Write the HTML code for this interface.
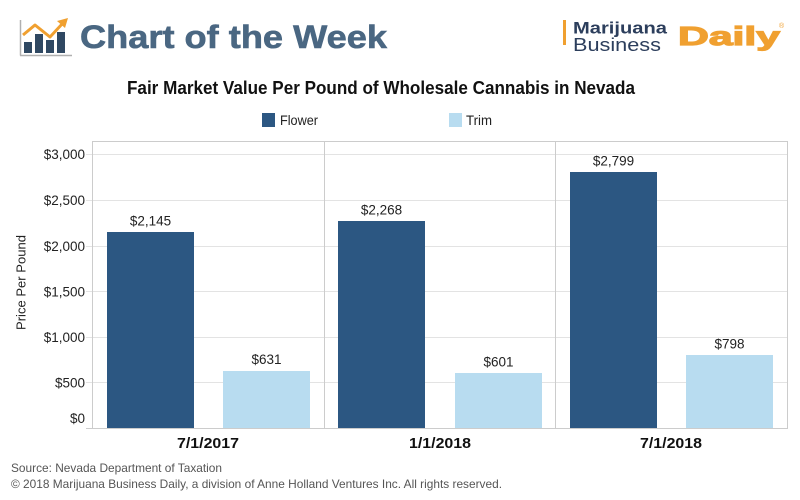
<!DOCTYPE html>
<html>
<head>
<meta charset="utf-8">
<style>
  html,body{margin:0;padding:0;background:#fff;}
  body{width:800px;height:500px;overflow:hidden;}
  svg{display:block;}
  text{font-family:"Liberation Sans", "DejaVu Sans", sans-serif;}
</style>
</head>
<body>
<svg width="800" height="500" viewBox="0 0 800 500" xmlns="http://www.w3.org/2000/svg">
  <rect x="0" y="0" width="800" height="500" fill="#ffffff"/>

  <!-- Header icon -->
  <g>
    <line x1="20.5" y1="20" x2="20.5" y2="55.5" stroke="#b0b0b0" stroke-width="1.5"/>
    <line x1="20" y1="55.5" x2="72" y2="55.5" stroke="#b0b0b0" stroke-width="1.5"/>
    <rect x="24" y="42" width="8" height="11" fill="#2f4862"/>
    <rect x="35" y="34" width="8" height="19" fill="#2f4862"/>
    <rect x="46" y="40" width="8" height="13" fill="#2f4862"/>
    <rect x="57" y="32" width="8" height="21" fill="#2f4862"/>
    <polyline points="23,35 35,25 50,37 63,23" fill="none" stroke="#f0a030" stroke-width="3" stroke-linejoin="round"/>
    <polygon points="68,18 57,21 65,28" fill="#f0a030"/>
  </g>
  <text x="80" y="48" font-size="32" font-weight="bold" fill="#4a6782" stroke="#4a6782" stroke-width="0.6" textLength="307" lengthAdjust="spacingAndGlyphs">Chart of the Week</text>

  <!-- Logo right -->
  <rect x="563" y="20" width="3" height="25" fill="#f0a030"/>
  <text x="573" y="33.5" font-size="16.5" font-weight="bold" fill="#2c3e5c" textLength="94" lengthAdjust="spacingAndGlyphs">Marijuana</text>
  <text x="573" y="51" font-size="18" fill="#2c3e5c" textLength="88" lengthAdjust="spacingAndGlyphs">Business</text>
  <text x="678" y="45" font-size="26" font-weight="bold" fill="#f0a030" stroke="#f0a030" stroke-width="1.2" textLength="102" lengthAdjust="spacingAndGlyphs">Daily</text>
  <text x="779" y="28" font-size="7" fill="#f0a030">®</text>

  <!-- Title -->
  <text x="127" y="94" font-size="18" font-weight="bold" fill="#111" textLength="508" lengthAdjust="spacingAndGlyphs">Fair Market Value Per Pound of Wholesale Cannabis in Nevada</text>

  <!-- Legend -->
  <rect x="262" y="113" width="13" height="14" fill="#2c5782"/>
  <text x="280" y="125" font-size="13.5" fill="#222" textLength="38" lengthAdjust="spacingAndGlyphs">Flower</text>
  <rect x="449" y="113" width="13" height="14" fill="#b8dcf0"/>
  <text x="466" y="125" font-size="13.5" fill="#222" textLength="26" lengthAdjust="spacingAndGlyphs">Trim</text>

  <!-- Gridlines -->
  <g stroke="#e3e3e3" stroke-width="1">
    <line x1="86" y1="154.5" x2="787" y2="154.5"/>
    <line x1="86" y1="200.5" x2="787" y2="200.5"/>
    <line x1="86" y1="246.5" x2="787" y2="246.5"/>
    <line x1="86" y1="291.5" x2="787" y2="291.5"/>
    <line x1="86" y1="337.5" x2="787" y2="337.5"/>
    <line x1="86" y1="382.5" x2="787" y2="382.5"/>
  </g>

  <!-- Panel borders -->
  <g stroke="#cccccc" stroke-width="1">
    <line x1="92" y1="141.5" x2="787.5" y2="141.5"/>
    <line x1="92.5" y1="141" x2="92.5" y2="428"/>
    <line x1="324.5" y1="141" x2="324.5" y2="428"/>
    <line x1="555.5" y1="141" x2="555.5" y2="428"/>
    <line x1="787.5" y1="141" x2="787.5" y2="428"/>
    <line x1="86" y1="428.5" x2="788" y2="428.5"/>
  </g>

  <!-- Bars -->
  <g>
    <rect x="107" y="232" width="87" height="196" fill="#2c5782"/>
    <rect x="223" y="371" width="87" height="57" fill="#b8dcf0"/>
    <rect x="338" y="221" width="87" height="207" fill="#2c5782"/>
    <rect x="455" y="373" width="87" height="55" fill="#b8dcf0"/>
    <rect x="570" y="172" width="87" height="256" fill="#2c5782"/>
    <rect x="686" y="355" width="87" height="73" fill="#b8dcf0"/>
  </g>

  <!-- Bar labels -->
  <g font-size="13.5" fill="#222" text-anchor="middle">
    <text x="150.5" y="225.5">$2,145</text>
    <text x="266.5" y="364">$631</text>
    <text x="381.5" y="214.5">$2,268</text>
    <text x="498.5" y="366.5">$601</text>
    <text x="613.5" y="165.5">$2,799</text>
    <text x="729.5" y="348.5">$798</text>
  </g>

  <!-- Y tick labels -->
  <g font-size="13.5" fill="#222" text-anchor="end">
    <text x="85" y="159">$3,000</text>
    <text x="85" y="205">$2,500</text>
    <text x="85" y="251">$2,000</text>
    <text x="85" y="296.5">$1,500</text>
    <text x="85" y="342">$1,000</text>
    <text x="85" y="387.5">$500</text>
    <text x="85" y="423">$0</text>
  </g>

  <!-- Y axis title -->
  <text transform="translate(25.5,282.5) rotate(-90)" font-size="13" fill="#222" text-anchor="middle" textLength="95" lengthAdjust="spacingAndGlyphs">Price Per Pound</text>

  <!-- Category labels -->
  <g font-size="15" font-weight="bold" fill="#111" text-anchor="middle">
    <text x="208" y="448" textLength="62" lengthAdjust="spacingAndGlyphs">7/1/2017</text>
    <text x="440" y="448" textLength="62" lengthAdjust="spacingAndGlyphs">1/1/2018</text>
    <text x="671" y="448" textLength="62" lengthAdjust="spacingAndGlyphs">7/1/2018</text>
  </g>

  <!-- Footer -->
  <text x="11" y="472" font-size="12" fill="#555" textLength="211" lengthAdjust="spacingAndGlyphs">Source: Nevada Department of Taxation</text>
  <text x="11" y="488" font-size="12" fill="#555" textLength="491" lengthAdjust="spacingAndGlyphs">© 2018 Marijuana Business Daily, a division of Anne Holland Ventures Inc. All rights reserved.</text>
</svg>
</body>
</html>
